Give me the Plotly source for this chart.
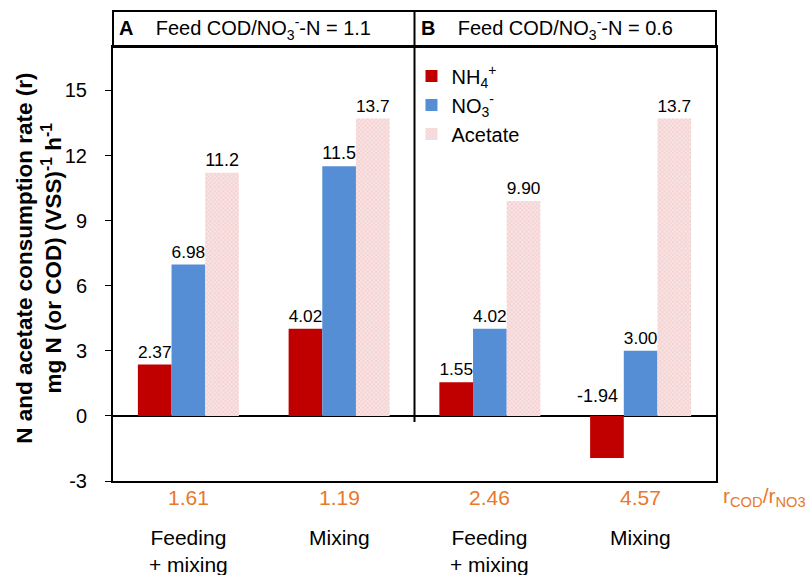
import plotly.graph_objects as go

categories = ["Feeding<br>+ mixing", "Mixing", "Feeding<br>+ mixing", "Mixing"]
ratio_labels = ["1.61", "1.19", "2.46", "4.57"]
nh4 = [2.37, 4.02, 1.55, -1.94]
no3 = [6.98, 11.5, 4.02, 3.00]
acetate = [11.2, 13.7, 9.90, 13.7]
y_ticks = [-3, 0, 3, 6, 9, 12, 15]
panel_titles = ["<b>A</b>    Feed COD/NO<sub>3</sub><sup>-</sup>-N = 1.1",
                "<b>B</b>    Feed COD/NO<sub>3</sub><sup>-</sup>-N = 0.6"]

FONT = "Liberation Sans, Arial, sans-serif"
RED = "#C00000"
BLUE = "#558ED5"
ORANGE = "#E8782A"

xs = list(range(len(categories)))


def fmt(v):
    return f"{v:#.3g}"


fig = go.Figure()
fig.add_trace(go.Bar(
    x=xs, y=nh4, name="NH<sub>4</sub><sup>+</sup>",
    marker=dict(color=RED, line=dict(width=0)),
    text=[fmt(v) if v >= 0 else "" for v in nh4],
    textposition="outside", cliponaxis=False,
    textfont=dict(family=FONT, size=18, color="black"),
))
fig.add_trace(go.Bar(
    x=xs, y=no3, name="NO<sub>3</sub><sup>-</sup>",
    marker=dict(color=BLUE, line=dict(width=0)),
    text=[fmt(v) for v in no3],
    textposition="outside", cliponaxis=False,
    textfont=dict(family=FONT, size=18, color="black"),
))
fig.add_trace(go.Bar(
    x=xs, y=acetate, name="Acetate",
    marker=dict(color="#F5D3D3", line=dict(width=0),
                pattern=dict(shape="x", fgcolor="#E3A3A3", bgcolor="#F9E2E2",
                             size=3, solidity=0.3)),
    text=[fmt(v) for v in acetate],
    textposition="outside", cliponaxis=False,
    textfont=dict(family=FONT, size=18, color="black"),
))

bargap = 0.33
bw = (1 - bargap) / 3
annotations = []
for i, v in enumerate(nh4):
    if v < 0:
        annotations.append(dict(x=xs[i] - bw, y=0, xref="x", yref="y", text=fmt(v),
                                showarrow=False, yanchor="bottom", xshift=-9, yshift=8,
                                font=dict(family=FONT, size=18, color="black")))
for i, (c, r) in enumerate(zip(categories, ratio_labels)):
    annotations.append(dict(x=xs[i], y=-0.037, xref="x", yref="paper", text=r,
                            showarrow=False, yanchor="middle",
                            font=dict(family=FONT, size=21, color=ORANGE)))
    annotations.append(dict(x=xs[i], y=-0.1, xref="x", yref="paper", text=c,
                            showarrow=False, yanchor="top", align="center",
                            font=dict(family=FONT, size=21, color="black")))
annotations.append(dict(x=1.008, y=-0.037, xref="paper", yref="paper",
                        text="r<sub>COD</sub>/r<sub>NO3</sub>", showarrow=False,
                        xanchor="left", yanchor="middle",
                        font=dict(family=FONT, size=21, color=ORANGE)))
header_top = 1 + 36 / 434
for k, t in enumerate(panel_titles):
    annotations.append(dict(x=-0.5 + 2 * k, y=(1 + header_top) / 2, xref="x", yref="paper",
                            text=t, showarrow=False, xanchor="left", yanchor="middle",
                            xshift=4,
                            font=dict(family=FONT, size=20, color="black")))
annotations.append(dict(x=-0.122, y=0.513, xref="paper", yref="paper", textangle=-90,
                        text="<b>N and acetate consumption rate (r)<br>mg N (or COD) (VSS)<sup>-1</sup> h<sup>-1</sup></b>",
                        showarrow=False, xanchor="center", yanchor="middle", align="center",
                        font=dict(family=FONT, size=22.5, color="black")))

shapes = [
    dict(type="rect", xref="paper", yref="paper", x0=0, x1=1, y0=1, y1=header_top,
         line=dict(color="black", width=2), layer="above"),
    dict(type="line", xref="x", yref="paper", x0=1.5, x1=1.5,
         y0=(3 - 0.28) / 20, y1=header_top, line=dict(color="black", width=2), layer="above"),
]

fig.update_layout(
    width=806, height=575,
    margin=dict(l=113, r=90, t=47, b=94),
    barmode="group", bargap=bargap, bargroupgap=0,
    paper_bgcolor="white", plot_bgcolor="white",
    font=dict(family=FONT, size=18, color="black"),
    showlegend=True,
    legend=dict(x=0.495, y=0.978, xanchor="left", yanchor="top",
                bgcolor="rgba(0,0,0,0)", font=dict(family=FONT, size=20),
                itemwidth=30),
    annotations=annotations,
    shapes=shapes,
)
fig.update_xaxes(range=[-0.5, 3.5], showticklabels=False, ticks="",
                 showline=True, linecolor="black", linewidth=2, mirror=True,
                 showgrid=False, zeroline=False, automargin=False)
fig.update_yaxes(range=[-3, 17], tickvals=y_ticks, ticktext=[str(t) for t in y_ticks],
                 ticks="outside", ticklen=6, tickcolor="black", tickwidth=1,
                 tickfont=dict(family=FONT, size=20), ticklabelstandoff=14,
                 showline=True, linecolor="black", linewidth=2, mirror=True,
                 showgrid=False, zeroline=True, zerolinecolor="black", zerolinewidth=1.5,
                 automargin=False)

fig.write_html("out.html", config={"displayModeBar": False},
               post_script="document.body.style.margin='0px';")
